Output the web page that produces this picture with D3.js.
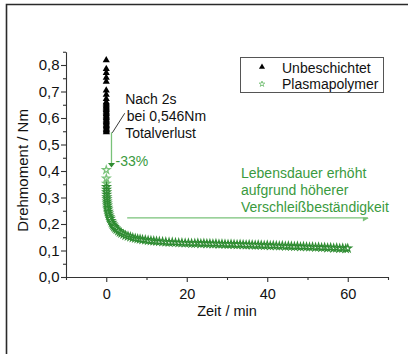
<!DOCTYPE html>
<html><head><meta charset="utf-8">
<script src="https://cdn.jsdelivr.net/npm/d3@7"></script>
<style>body{margin:0;background:#fff}svg{display:block;font-family:"Liberation Sans",Arial,sans-serif}</style>
</head><body>
<script>
// Unbeschichtet (uncoated): time [min], torque [Nm]
const uncoatedTime = [0,0,0,0,0,0,0,0,0,
  0.002,0.004,0.005,0.007,0.008,0.010,0.011,0.013,0.014,0.016,0.017,0.019,0.020,0.022,0.023,0.025,0.026,0.028,0.029,0.030,0.031,0.032,0.033];
const uncoatedValue = [0.818,0.785,0.770,0.752,0.737,0.704,0.688,0.672,0.660,
  0.655,0.650,0.645,0.640,0.635,0.630,0.625,0.620,0.615,0.610,0.605,0.600,0.595,0.590,0.585,0.580,0.575,0.570,0.565,0.560,0.555,0.550,0.546];

// Plasmapolymer: time [min], torque [Nm]
const plasmaTime = [0,0.02,0.04,0.06,0.08,0.10,0.12,0.15,0.18,0.21,0.25,0.30,0.35,0.40,0.50,0.60,0.70,0.85,1.0,1.2,1.4,1.6,1.8,2.0,2.3,2.6,3.0,3.4,3.8,4.3,4.8,5.4,6.0,6.6,7.2,7.8,8.4,9.0,9.7,10.4,11.1,11.8,12.5,13.2,14.0,14.8,15.6,16.4,17.2,18.0,18.8,19.6,20.4,21.2,22.0,
  22.75,23.5,24.25,25.0,25.75,26.5,27.25,28.0,28.75,29.5,30.25,31.0,31.75,32.5,33.25,34.0,34.75,35.5,36.25,37.0,37.75,38.5,39.25,40.0,40.75,41.5,42.25,43.0,43.75,44.5,45.25,46.0,46.75,47.5,48.25,49.0,49.75,50.5,51.25,52.0,52.75,53.5,54.25,55.0,55.75,56.5,57.25,58.0,58.75,59.5,60.0];
const plasmaValue = [0.404,0.372,0.353,0.340,0.330,0.320,0.311,0.302,0.294,0.286,0.278,0.270,0.262,0.255,0.247,0.240,0.233,0.226,0.220,0.212,0.205,0.199,0.194,0.189,0.184,0.179,0.174,0.169,0.165,0.161,0.157,0.154,0.151,0.148,0.146,0.144,0.143,0.141,0.140,0.138,0.137,0.136,0.135,0.134,0.133,0.132,0.131,0.131,0.130,0.129,0.129,0.128,0.128,0.127,0.127,
  0.128,0.126,0.127,0.126,0.126,0.125,0.126,0.124,0.125,0.124,0.123,0.124,0.123,0.122,0.123,0.122,0.121,0.122,0.121,0.120,0.121,0.120,0.119,0.120,0.118,0.119,0.118,0.117,0.118,0.116,0.117,0.116,0.115,0.116,0.114,0.115,0.114,0.113,0.114,0.112,0.113,0.111,0.112,0.110,0.111,0.109,0.110,0.108,0.109,0.107,0.108];

const xMajorTicks = [0,20,40,60];
const xMinorTicks = [-10,10,30,50,70];
const yMajorTicks = [0,0.1,0.2,0.3,0.4,0.5,0.6,0.7,0.8];
const yMinorTicks = [0.05,0.15,0.25,0.35,0.45,0.55,0.65,0.75,0.85];
const seriesNames = ["Unbeschichtet","Plasmapolymer"];
const noteLeft = ["Nach 2s","bei 0,546Nm","Totalverlust"];
const noteRight = ["Lebensdauer erhöht","aufgrund höherer","Verschleißbeständigkeit"];
const dropLabel = "-33%";

const W = 408, H = 354;
const green = "#2f8c32", lightGreen = "#79c279", textGreen = "#3a9a3e", axisCol = "#333";
const svg = d3.select("body").append("svg").attr("width", W).attr("height", H);

// outer frame
svg.append("path").attr("d", "M6.5,354 V4.5 H408").attr("fill","none").attr("stroke","#2a2a2a").attr("stroke-width",1.6);

const x = d3.scaleLinear().domain([-10,70]).range([66,388]);
const y = d3.scaleLinear().domain([0,0.85]).range([277,51.75]);
const fmt = d3.format(".1f");
const fmtC = v => fmt(v).replace(".", ",");

// axes
const gx = svg.append("g").attr("transform", `translate(0,${y(0)})`);
gx.call(d3.axisBottom(x).tickValues(xMajorTicks).tickSize(5).tickSizeOuter(0).tickFormat(d3.format("d")));
const gxm = svg.append("g").attr("transform", `translate(0,${y(0)})`);
gxm.call(d3.axisBottom(x).tickValues(xMinorTicks).tickSize(3).tickSizeOuter(0).tickFormat(""));
gxm.select(".domain").remove();
const gy = svg.append("g").attr("transform", `translate(${x(-10)},0)`);
gy.call(d3.axisLeft(y).tickValues(yMajorTicks).tickSize(5).tickSizeOuter(0).tickFormat(fmtC));
const gym = svg.append("g").attr("transform", `translate(${x(-10)},0)`);
gym.call(d3.axisLeft(y).tickValues(yMinorTicks).tickSize(3).tickSizeOuter(0).tickFormat(""));
gym.select(".domain").remove();
svg.selectAll(".domain,.tick line").attr("stroke", axisCol).attr("stroke-width", 1.1);
gx.selectAll(".tick text").attr("font-size", 14.5).attr("fill","#111").attr("dy","0.95em");
gy.selectAll(".tick text").attr("font-size", 15).attr("fill","#111").attr("x",-6.5);

// axis titles
svg.append("text").attr("x", (x(-10)+x(70))/2).attr("y", 316).attr("text-anchor","middle")
  .attr("font-size", 14.5).attr("fill","#111").text("Zeit / min");
svg.append("text").attr("transform", `translate(28,${(y(0)+y(0.85))/2+6}) rotate(-90)`).attr("text-anchor","middle")
  .attr("font-size", 15).attr("fill","#111").text("Drehmoment / Nm");

// plasma stars
const star = d3.symbol().type(d3.symbolStar).size(17);
svg.append("g").selectAll("path").data(plasmaTime.map((t,i)=>[t,plasmaValue[i]])).join("path")
  .attr("d", star).attr("transform", d=>`translate(${x(d[0])},${y(d[1])})`)
  .attr("fill","#fff").attr("stroke", (d,i)=> i<3 ? lightGreen : green).attr("stroke-width",1.25);

// uncoated triangles
const tri = d3.symbol().type(d3.symbolTriangle).size(22);
svg.append("g").selectAll("path").data(uncoatedTime.map((t,i)=>[t,uncoatedValue[i]])).join("path")
  .attr("d", tri).attr("transform", d=>`translate(${x(d[0])},${y(d[1])})`).attr("fill","#000");

// leader line for note
svg.append("line").attr("x1", x(1.5)).attr("y1", y(0.544)).attr("x2", x(4.6)).attr("y2", y(0.618))
  .attr("stroke","#222").attr("stroke-width",0.9);
svg.append("text").attr("font-size",14).attr("fill","#111").selectAll("tspan").data(noteLeft).join("tspan")
  .attr("x",(d,i)=> i===1 ? x(5.1) : x(4.7)).attr("y",(d,i)=>104+i*17).text(d=>d);

// green vertical drop arrow
svg.append("line").attr("x1", x(1.3)).attr("x2", x(1.3)).attr("y1", y(0.546)).attr("y2", y(0.43))
  .attr("stroke", lightGreen).attr("stroke-width",1.3);
svg.append("path").attr("d", `M${x(1.3)-3.5},${y(0.43)} L${x(1.3)+3.5},${y(0.43)} L${x(1.3)},${y(0.413)} Z`).attr("fill", green);
svg.append("text").attr("x", x(2.3)).attr("y", 166).attr("font-size",14).attr("fill",textGreen).text(dropLabel);

// horizontal green arrow
svg.append("line").attr("x1", x(5.2)).attr("x2", x(65)).attr("y1", y(0.223)).attr("y2", y(0.223))
  .attr("stroke", lightGreen).attr("stroke-width",1.2);
svg.append("path").attr("d", `M${x(65)-5},${y(0.223)-0.5} L${x(65)-5},${y(0.223)+3.5} L${x(65)+1},${y(0.223)} Z`).attr("fill", lightGreen);
svg.append("text").attr("font-size",14).attr("fill",textGreen).selectAll("tspan").data(noteRight).join("tspan")
  .attr("x", 241).attr("y",(d,i)=>177.5+i*17).text(d=>d);

// legend
const lg = svg.append("g");
lg.append("rect").attr("x",240.5).attr("y",57.5).attr("width",143).attr("height",35).attr("fill","#fff").attr("stroke","#555").attr("stroke-width",1);
lg.append("path").attr("d", d3.symbol().type(d3.symbolTriangle).size(16)).attr("transform","translate(262,67)").attr("fill","#000");
lg.append("path").attr("d", d3.symbol().type(d3.symbolStar).size(10)).attr("transform","translate(262,84)").attr("fill","#fff").attr("stroke",lightGreen).attr("stroke-width",0.9);
lg.selectAll("text.l").data(seriesNames).join("text").attr("class","l").attr("x",282).attr("y",(d,i)=>73+i*15.5)
  .attr("font-size",14).attr("fill","#111").text(d=>d);
</script>
</body></html>
